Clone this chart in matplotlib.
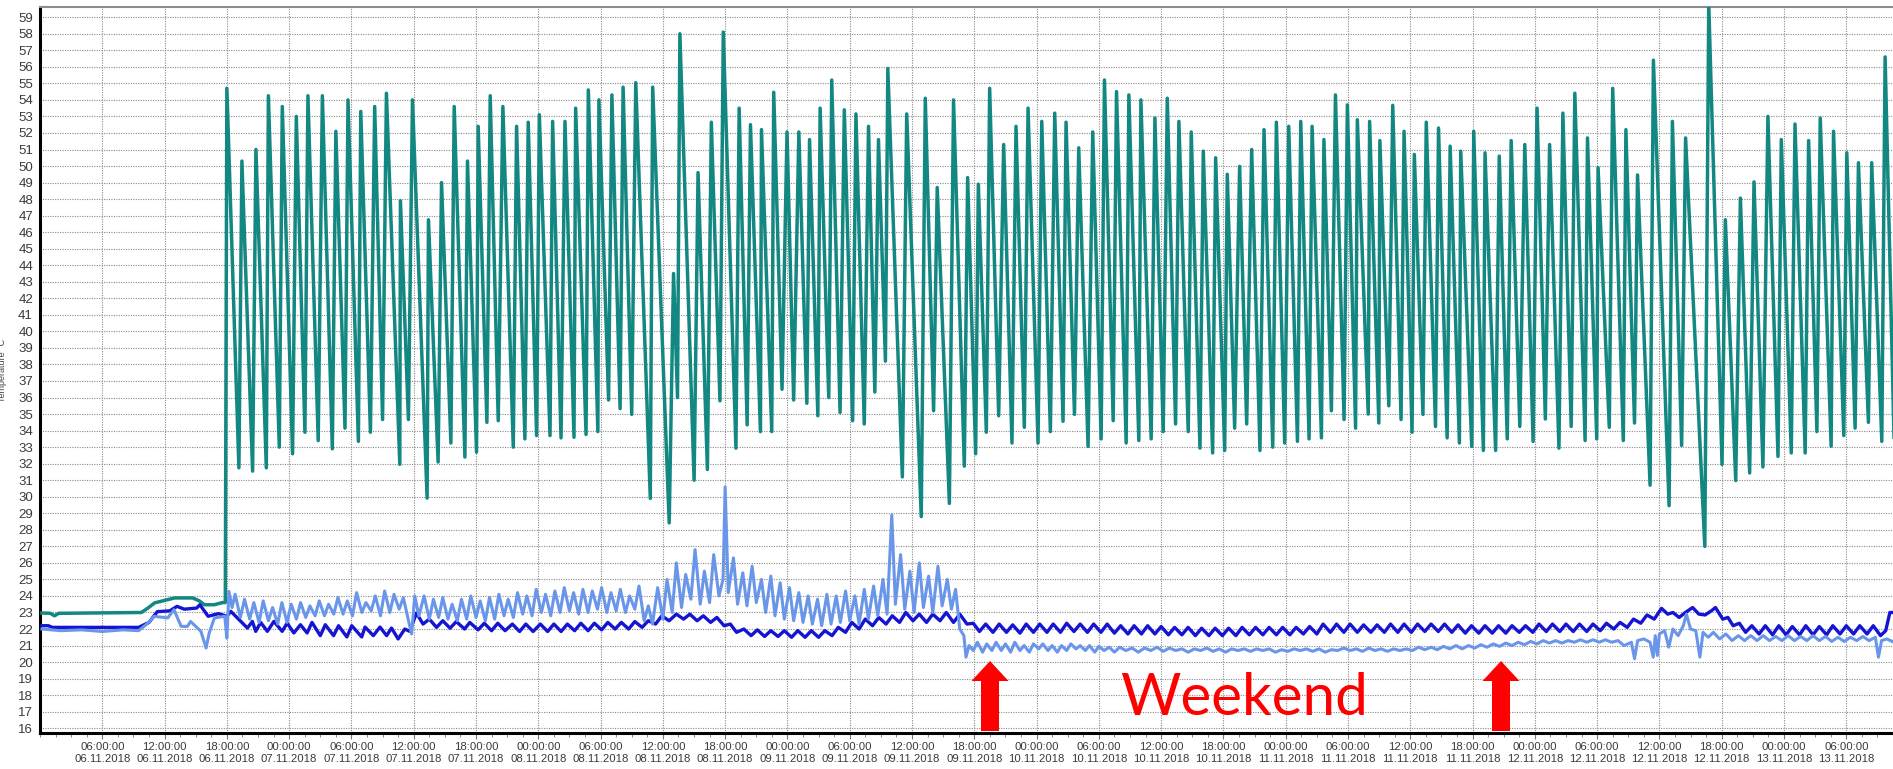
import numpy as np
import pandas as pd
import matplotlib
matplotlib.use("Agg")
import matplotlib.pyplot as plt
import matplotlib.dates as mdates
from matplotlib.patches import Polygon

start = pd.Timestamp("2018-11-06 00:00")

# flow temperature, turning points (hours after 06.11.2018 00:00, degC)
flow_h = [0.19, 1.0, 1.4, 1.8, 9.77, 10.4, 11.04, 12.32, 12.96, 14.71, 15.35, 15.83, 16.79, 17.59, 17.85,
          18.0, 19.16, 19.45, 20.48, 20.8, 21.8, 22.0, 23.05, 23.34, 24.33, 24.69, 25.52, 25.81, 26.8,
          27.2, 28.16, 28.5, 29.38, 29.67, 30.67, 30.9, 31.83, 32.24, 33.0, 33.37, 34.66, 34.72, 35.49,
          35.88, 37.29, 37.42, 38.35, 38.68, 39.58, 39.9, 40.93, 41.18, 42.05, 42.21, 43.05, 43.37, 44.14,
          44.59, 45.59, 45.91, 46.71, 47.03, 47.84, 48.1, 49.13, 49.38, 50.19, 50.57, 51.44, 51.6, 52.6,
          52.82, 53.74, 53.84, 54.77, 55.09, 55.88, 56.17, 57.0, 57.39, 58.79, 59.02, 60.61, 61.03, 61.41,
          61.64, 63.01, 63.39, 64.29, 64.67, 65.5, 65.82, 67.04, 67.35, 68.12, 68.44, 69.4, 69.5, 70.49,
          70.68, 71.48, 71.96, 72.6, 73.1, 73.87, 74.13, 74.93, 75.15, 75.98, 76.27, 77.07, 77.48, 78.28,
          78.6, 79.4, 79.81, 80.42, 80.77, 81.44, 81.67, 83.07, 83.49, 84.89, 85.28, 86.08, 86.43, 87.6,
          88.0, 89.04, 89.36, 90.13, 90.39, 91.16, 91.48, 92.35, 92.83, 93.63, 94.02, 94.82, 95.18, 96.14,
          96.5, 97.33, 97.75, 98.55, 98.84, 99.65, 100.06, 100.96, 101.41, 102.22, 102.54, 103.38, 103.7,
          104.63, 104.89, 105.85, 106.05, 107.04, 107.4, 108.2, 108.59, 109.39, 109.71, 110.61, 110.9,
          111.74, 112.06, 112.96, 113.25, 114.12, 114.37, 115.08, 115.56, 116.24, 116.72, 117.52, 117.91,
          118.75, 119.1, 119.9, 120.29, 121.13, 121.45, 122.25, 122.54, 123.44, 123.68, 124.4, 124.79,
          125.62, 125.94, 126.73, 126.9, 127.95, 128.08, 128.97, 129.07, 129.93, 130.31, 131.11, 131.4,
          132.17, 132.39, 133.22, 133.54, 134.43, 134.72, 135.55, 135.84, 136.73, 136.86, 137.92, 138.11,
          139.04, 139.2, 140.22, 140.57, 141.34, 141.72, 142.55, 143.03, 143.83, 144.21, 145.01, 145.42,
          146.32, 146.7, 147.5, 147.85, 148.84, 149.07, 149.96, 150.09, 151.17, 151.5, 152.52, 152.77,
          153.6, 153.89, 155.1, 155.42, 156.93, 157.25, 158.14, 158.52, 160.37, 160.75, 162.03, 162.35,
          163.35, 163.8, 164.69, 165.11, 165.97, 166.45, 167.42, 167.74, 168.7, 169.06, 170.04, 170.37,
          171.17, 171.49, 172.54, 172.77, 173.76, 174.05, 174.85, 175.17, 176.13, 176.45, 177.42, 177.74,
          178.6]
flow_t = [22.97, 22.95, 22.8, 22.95, 23.0, 23.27, 23.58, 23.78, 23.88, 23.88, 23.7, 23.47, 23.47, 23.6, 23.6,
          54.7, 31.75, 50.3, 31.55, 51.0, 31.75, 54.25, 33.0, 53.6, 32.6, 53.0, 33.9, 54.25, 33.4,
          54.25, 32.9, 52.1, 34.15, 54.0, 33.35, 53.3, 33.9, 53.6, 34.67, 54.4, 31.96, 47.9, 34.67,
          54.0, 29.92, 46.75, 32.1, 49.0, 33.25, 53.6, 32.4, 50.3, 32.7, 52.4, 34.5, 54.25, 34.6,
          53.6, 33.0, 52.4, 33.5, 52.65, 33.7, 53.1, 33.7, 52.7, 33.56, 52.7, 33.6, 53.5, 33.77,
          54.6, 33.94, 54.0, 35.85, 54.3, 35.33, 54.77, 34.98, 55.04, 29.9, 54.77, 28.42, 43.5, 36.0,
          58.0, 31.0, 49.6, 31.65, 52.65, 35.8, 58.1, 32.94, 53.5, 34.35, 52.5, 33.94, 52.2, 33.94,
          54.46, 36.5, 52.06, 35.85, 52.06, 35.65, 51.6, 34.9, 53.5, 36.0, 55.2, 35.1, 53.4, 34.6,
          53.15, 34.4, 52.4, 36.33, 51.6, 38.2, 55.9, 31.2, 53.15, 28.8, 54.1, 35.2, 48.7, 29.6,
          54.0, 31.85, 49.3, 32.6, 48.9, 33.9, 54.7, 34.9, 51.3, 33.25, 52.4, 34.2, 53.5, 33.25,
          52.7, 33.94, 53.2, 34.56, 52.65, 34.98, 51.1, 33.04, 52.06, 33.5, 55.2, 34.6, 54.5,
          33.25, 54.3, 33.4, 54.0, 33.5, 52.9, 33.94, 54.1, 34.4, 52.7, 33.94, 52.06,
          32.94, 50.9, 32.65, 50.5, 32.8, 49.5, 34.15, 49.98, 34.4, 51.0, 32.8, 52.2,
          33.0, 52.65, 33.25, 52.4, 33.35, 52.7, 33.5, 52.4, 33.56, 51.6, 35.2, 54.3,
          34.67, 53.7, 34.15, 52.8, 35.0, 52.7, 34.46, 51.54, 35.5, 53.67, 34.67, 52.1,
          33.9, 50.7, 34.98, 52.65, 34.25, 52.3, 33.56, 51.2, 33.25, 50.9, 33.04, 52.1,
          32.8, 50.8, 32.8, 50.6, 33.5, 51.54, 34.25, 51.3, 33.35, 53.5, 34.7, 51.3,
          32.94, 53.2, 34.25, 54.4, 33.4, 51.7, 33.5, 49.9, 34.2, 54.7, 33.4, 52.2,
          34.46, 49.46, 30.7, 56.4, 29.46, 52.7, 33.1, 51.7, 27.0, 59.8, 31.96, 46.75,
          30.98, 48.06, 31.44, 49.04, 31.8, 53.0, 32.44, 51.6, 32.65, 52.54, 32.65, 51.54,
          33.94, 52.9, 33.06, 52.1, 33.7, 50.8, 34.15, 50.2, 34.5, 50.2, 33.35, 56.6,
          33.5]

# room temperature (dark blue), (hour, degC)
room = [(0.19, 22.2), (0.8, 22.2), (1.2, 22.1), (9.5, 22.1), (10.5, 22.4), (11.3, 23.05), (12.5, 23.1),
        (13.2, 23.37), (13.9, 23.2), (15.1, 23.27), (15.4, 23.47), (16.2, 22.77), (17.2, 22.93),
        (18.0, 22.77), (18.38, 23.07), (19.98, 22.06), (20.46, 22.46), (20.78, 21.86), (21.26, 22.4),
        (21.9, 21.86), (22.53, 22.46), (23.33, 21.86), (23.81, 22.36), (24.45, 21.76), (25.09, 22.26),
        (25.73, 21.76), (26.2, 22.4), (27.0, 21.6), (27.48, 22.26), (28.28, 21.6), (28.76, 22.2),
        (29.56, 21.52), (30.03, 22.2), (30.99, 21.52), (31.31, 22.12), (32.11, 21.6), (32.75, 22.12),
        (33.39, 21.6), (33.86, 22.06), (34.5, 21.4), (35.14, 22.0), (35.62, 21.86), (36.26, 22.97),
        (36.9, 22.3), (37.5, 22.6), (38.2, 22.1), (38.8, 22.5), (39.5, 22.05), (40.1, 22.45),
        (40.9, 22.0), (41.4, 22.4), (42.2, 21.95), (42.8, 22.35), (43.5, 21.9), (44.1, 22.35),
        (44.8, 21.9), (45.5, 22.3), (46.2, 21.85), (46.8, 22.3), (47.5, 21.85), (48.2, 22.3),
        (48.9, 21.85), (49.5, 22.3), (50.2, 21.85), (50.8, 22.3), (51.5, 21.9), (52.1, 22.35),
        (52.8, 21.9), (53.4, 22.35), (54.1, 21.95), (54.7, 22.4), (55.4, 22.0), (56.0, 22.4),
        (56.7, 22.0), (57.3, 22.45), (58.0, 22.1), (58.6, 22.5), (59.3, 22.3), (59.9, 22.8),
        (60.6, 22.5), (61.3, 22.9), (62.0, 22.6), (62.6, 22.9), (63.3, 22.5), (63.9, 22.8),
        (64.6, 22.4), (65.2, 22.7), (65.9, 22.2), (66.5, 22.3), (67.1, 21.8), (67.8, 22.0),
        (68.5, 21.6), (69.1, 21.95), (69.8, 21.55), (70.4, 21.9), (71.1, 21.55), (71.7, 21.9),
        (72.4, 21.5), (73.0, 21.9), (73.7, 21.5), (74.3, 21.9), (75.0, 21.5), (75.6, 21.9),
        (76.3, 21.6), (76.9, 22.1), (77.6, 21.8), (78.2, 22.4), (78.9, 22.0), (79.5, 22.6),
        (80.2, 22.2), (80.8, 22.7), (81.5, 22.3), (82.1, 22.8), (82.8, 22.4), (83.4, 23.0),
        (84.1, 22.5), (84.7, 22.9), (85.4, 22.4), (86.0, 22.9), (86.7, 22.5), (87.3, 23.0),
        (88.0, 22.4), (88.6, 22.9), (89.3, 22.3), (89.9, 22.35), (90.5, 21.85), (91.1, 22.3),
        (91.8, 21.8), (92.4, 22.3), (93.1, 21.8), (93.7, 22.25), (94.4, 21.75), (95.0, 22.3),
        (95.7, 21.8), (96.3, 22.3), (97.0, 21.8), (97.6, 22.3), (98.3, 21.8), (98.9, 22.35),
        (99.6, 21.85), (100.2, 22.3), (100.9, 21.8), (101.5, 22.3), (102.2, 21.8), (102.8, 22.3),
        (103.5, 21.75), (104.1, 22.2), (104.8, 21.7), (105.4, 22.2), (106.1, 21.7), (106.7, 22.2),
        (107.4, 21.7), (108.0, 22.15), (108.7, 21.65), (109.3, 22.1), (110.0, 21.65), (110.6, 22.1),
        (111.3, 21.6), (111.9, 22.05), (112.6, 21.6), (113.2, 22.05), (113.9, 21.6), (114.5, 22.05),
        (115.2, 21.6), (115.8, 22.1), (116.5, 21.65), (117.1, 22.1), (117.8, 21.65), (118.4, 22.1),
        (119.1, 21.65), (119.7, 22.1), (120.4, 21.65), (121.0, 22.1), (121.7, 21.7), (122.3, 22.15),
        (123.0, 21.7), (123.6, 22.3), (124.3, 21.8), (124.9, 22.3), (125.6, 21.8), (126.2, 22.3),
        (126.9, 21.8), (127.5, 22.25), (128.2, 21.8), (128.8, 22.25), (129.5, 21.8), (130.1, 22.3),
        (130.8, 21.8), (131.4, 22.3), (132.1, 21.8), (132.7, 22.3), (133.4, 21.85), (134.0, 22.3),
        (134.7, 21.85), (135.3, 22.3), (136.0, 21.8), (136.6, 22.25), (137.3, 21.75), (137.9, 22.2),
        (138.6, 21.75), (139.2, 22.2), (139.9, 21.75), (140.5, 22.2), (141.2, 21.75), (141.8, 22.2),
        (142.5, 21.8), (143.1, 22.2), (143.8, 21.8), (144.4, 22.3), (145.1, 21.85), (145.7, 22.3),
        (146.4, 21.85), (147.0, 22.3), (147.7, 21.85), (148.3, 22.3), (149.0, 21.85), (149.6, 22.3),
        (150.3, 21.9), (150.9, 22.35), (151.6, 22.0), (152.2, 22.4), (152.9, 22.1), (153.5, 22.6),
        (154.2, 22.35), (154.8, 22.85), (155.5, 22.6), (156.2, 23.25), (156.8, 22.9), (157.3, 23.0),
        (157.9, 22.7), (158.5, 23.0), (159.2, 23.3), (159.8, 22.9), (160.4, 22.85), (161.0, 23.1),
        (161.4, 23.3), (162.1, 22.6), (162.6, 22.7), (163.1, 22.2), (163.7, 22.35), (164.3, 21.8),
        (164.9, 22.2), (165.6, 21.7), (166.2, 22.2), (166.9, 21.65), (167.5, 22.2), (168.2, 21.65),
        (168.8, 22.15), (169.5, 21.65), (170.1, 22.2), (170.8, 21.65), (171.4, 22.15), (172.1, 21.65),
        (172.7, 22.2), (173.4, 21.7), (174.0, 22.2), (174.7, 21.7), (175.3, 22.2), (176.0, 21.7),
        (176.6, 22.2), (177.3, 21.6), (177.8, 21.9), (178.2, 23.0), (178.6, 23.0)]

# second room sensor (light blue), (hour, degC)
sensor = [(0.19, 22.0), (2.0, 21.9), (4.0, 21.95), (6.0, 21.85), (8.0, 21.95), (9.5, 21.9), (10.4, 22.36),
          (11.0, 22.77), (12.3, 22.67), (12.9, 23.17), (13.6, 22.16), (14.2, 22.16), (14.5, 22.46),
          (15.5, 21.86), (16.0, 20.85), (16.3, 21.76), (16.8, 22.67), (17.8, 22.77), (18.0, 21.45),
          (18.2, 24.28), (18.5, 23.3), (18.8, 24.1), (19.3, 22.7), (19.7, 23.8), (20.2, 22.6),
          (20.6, 23.6), (21.1, 22.4), (21.5, 23.7), (22.0, 22.5), (22.4, 23.3), (22.9, 22.3),
          (23.3, 23.6), (23.8, 22.4), (24.2, 23.5), (24.7, 22.6), (25.1, 23.6), (25.6, 22.7),
          (26.0, 23.4), (26.5, 22.8), (26.9, 23.7), (27.4, 22.8), (27.8, 23.5), (28.3, 22.9),
          (28.7, 23.9), (29.2, 22.9), (29.6, 23.7), (30.1, 22.8), (30.5, 24.2), (31.0, 23.0),
          (31.4, 23.6), (31.9, 23.1), (32.3, 24.0), (32.8, 22.8), (33.2, 24.3), (33.7, 23.0),
          (34.1, 24.1), (34.6, 23.2), (35.0, 23.9), (35.5, 22.5), (35.8, 21.7), (36.1, 24.0),
          (36.5, 22.8), (37.0, 24.0), (37.5, 22.6), (37.9, 23.8), (38.4, 22.7), (38.8, 23.9),
          (39.3, 22.6), (39.7, 23.5), (40.2, 22.5), (40.6, 23.8), (41.1, 22.6), (41.5, 24.0),
          (42.0, 22.7), (42.4, 23.7), (42.9, 22.5), (43.3, 23.9), (43.8, 22.6), (44.2, 24.1),
          (44.7, 22.8), (45.1, 23.8), (45.6, 22.7), (46.0, 24.2), (46.5, 22.9), (46.9, 24.0),
          (47.4, 22.8), (47.8, 24.4), (48.3, 23.0), (48.7, 24.1), (49.2, 22.8), (49.6, 24.3),
          (50.1, 23.0), (50.5, 24.5), (51.0, 23.1), (51.4, 24.2), (51.9, 22.9), (52.3, 24.4),
          (52.8, 23.0), (53.2, 24.3), (53.7, 23.2), (54.1, 24.5), (54.6, 23.0), (55.0, 24.2),
          (55.5, 23.1), (55.9, 24.4), (56.4, 23.0), (56.8, 24.0), (57.3, 23.2), (57.7, 24.6),
          (58.2, 22.5), (58.6, 23.4), (59.0, 22.3), (59.5, 24.5), (60.0, 22.6), (60.4, 25.0),
          (60.9, 23.0), (61.3, 26.0), (61.8, 23.3), (62.2, 25.3), (62.7, 23.8), (63.1, 26.8),
          (63.6, 23.5), (64.0, 25.5), (64.5, 23.6), (64.9, 26.5), (65.4, 24.0), (65.8, 25.0),
          (66.0, 30.6), (66.3, 24.2), (66.8, 26.3), (67.2, 23.5), (67.7, 25.4), (68.1, 23.4),
          (68.6, 25.8), (69.0, 23.6), (69.5, 25.0), (69.9, 23.0), (70.4, 25.2), (70.8, 22.8),
          (71.3, 24.8), (71.7, 22.6), (72.2, 24.5), (72.6, 22.5), (73.1, 24.2), (73.5, 22.4),
          (74.0, 24.0), (74.4, 22.3), (74.9, 23.8), (75.3, 22.2), (75.8, 24.1), (76.2, 22.3),
          (76.7, 24.0), (77.1, 22.4), (77.6, 24.3), (78.0, 22.5), (78.5, 24.0), (78.9, 22.3),
          (79.4, 24.4), (79.8, 22.6), (80.3, 24.6), (80.7, 22.8), (81.2, 25.0), (81.6, 22.9),
          (82.05, 28.9), (82.4, 23.5), (82.9, 26.5), (83.3, 23.2), (83.8, 25.5), (84.2, 23.0),
          (84.7, 26.0), (85.1, 23.3), (85.6, 25.2), (86.0, 23.0), (86.5, 25.8), (86.9, 23.4),
          (87.4, 25.0), (87.8, 23.2), (88.2, 24.4), (88.6, 22.0), (89.0, 21.6), (89.2, 20.3),
          (89.5, 21.0), (89.9, 20.7), (90.3, 21.2), (90.8, 20.6), (91.2, 21.1), (91.7, 20.7),
          (92.1, 21.2), (92.6, 20.7), (93.0, 21.1), (93.5, 20.6), (93.9, 21.2), (94.4, 20.7),
          (94.8, 21.0), (95.3, 20.6), (95.7, 21.1), (96.2, 20.8), (96.6, 21.1), (97.1, 20.7),
          (97.5, 21.0), (98.0, 20.6), (98.4, 21.0), (98.9, 20.7), (99.3, 21.1), (99.8, 20.8),
          (100.2, 21.0), (100.7, 20.7), (101.1, 21.0), (101.6, 20.6), (102.0, 20.95), (102.5, 20.7),
          (103.0, 20.9), (103.5, 20.6), (104.0, 20.9), (104.6, 20.7), (105.2, 20.85), (105.8, 20.6),
          (106.4, 20.85), (107.0, 20.7), (107.6, 20.9), (108.2, 20.65), (108.8, 20.85), (109.4, 20.7),
          (110.0, 20.8), (110.6, 20.6), (111.2, 20.8), (111.8, 20.7), (112.4, 20.85), (113.0, 20.65),
          (113.6, 20.8), (114.2, 20.6), (114.8, 20.8), (115.4, 20.7), (116.0, 20.8), (116.6, 20.65),
          (117.2, 20.8), (117.8, 20.7), (118.4, 20.8), (119.0, 20.6), (119.6, 20.75), (120.2, 20.65),
          (120.8, 20.8), (121.4, 20.7), (122.0, 20.8), (122.6, 20.65), (123.2, 20.8), (123.8, 20.6),
          (124.4, 20.75), (125.0, 20.7), (125.6, 20.85), (126.2, 20.7), (126.8, 20.8), (127.4, 20.65),
          (128.0, 20.85), (128.6, 20.7), (129.2, 20.8), (129.8, 20.65), (130.4, 20.8), (131.0, 20.7),
          (131.6, 20.8), (132.2, 20.7), (132.8, 20.9), (133.4, 20.75), (134.0, 20.9), (134.6, 20.75),
          (135.2, 20.95), (135.8, 20.8), (136.4, 21.0), (137.0, 20.8), (137.6, 21.0), (138.2, 20.85),
          (138.8, 21.05), (139.4, 20.9), (140.0, 21.1), (140.6, 20.95), (141.2, 21.15), (141.8, 21.0),
          (142.4, 21.2), (143.0, 21.05), (143.6, 21.25), (144.2, 21.1), (144.8, 21.3), (145.4, 21.15),
          (146.0, 21.3), (146.6, 21.15), (147.2, 21.3), (147.8, 21.2), (148.4, 21.35), (149.0, 21.2),
          (149.6, 21.35), (150.2, 21.2), (150.8, 21.35), (151.4, 21.2), (152.0, 21.3), (152.6, 21.0),
          (153.3, 21.2), (153.6, 20.2), (153.9, 21.3), (154.5, 21.4), (155.1, 21.2), (155.4, 20.3),
          (155.6, 21.6), (155.8, 20.4), (156.0, 21.7), (156.5, 21.9), (156.9, 20.9), (157.3, 22.0),
          (157.8, 21.6), (158.3, 22.2), (158.6, 22.9), (159.0, 22.0), (159.5, 21.9), (159.9, 20.3),
          (160.2, 21.8), (160.7, 21.5), (161.2, 21.8), (161.8, 21.4), (162.4, 21.7), (163.0, 21.3),
          (163.6, 21.6), (164.2, 21.3), (164.8, 21.6), (165.4, 21.3), (166.0, 21.6), (166.6, 21.3),
          (167.2, 21.55), (167.8, 21.3), (168.4, 21.6), (169.0, 21.3), (169.6, 21.55), (170.2, 21.3),
          (170.8, 21.6), (171.4, 21.3), (172.0, 21.55), (172.6, 21.25), (173.2, 21.5), (173.8, 21.25),
          (174.4, 21.5), (175.0, 21.3), (175.6, 21.55), (176.2, 21.3), (176.8, 21.5), (177.1, 20.3),
          (177.4, 21.3), (177.9, 21.4), (178.6, 21.2)]


def to_num(hours):
    stamps = start + pd.to_timedelta(np.asarray(hours, dtype=float), unit="h")
    return mdates.date2num(stamps.to_pydatetime())


room_h, room_t = zip(*room)
sensor_h, sensor_t = zip(*sensor)

W, H = 1893, 769
fig = plt.figure(figsize=(W / 100, H / 100), dpi=100)
ax_l, ax_r, ax_t, ax_b = 40, W, 7.3, 732.7
ax = fig.add_axes([ax_l / W, 1 - ax_b / H, (ax_r - ax_l) / W, (ax_b - ax_t) / H])

ax.plot(to_num(flow_h), flow_t, color="#138781", lw=2.5, solid_joinstyle="round", zorder=3)
ax.plot(to_num(room_h), room_t, color="#1414d2", lw=2.4, zorder=4)
ax.plot(to_num(sensor_h), sensor_t, color="#6a96ea", lw=2.2, zorder=5)

ax.set_xlim(to_num([0.16, 178.45]))
ax.set_ylim(15.73, 59.6)
ax.set_yticks(range(16, 60))
ax.set_xticks(to_num(np.arange(6, 175, 6)))
ax.set_xticks(to_num(np.arange(0, 179, 1.5)), minor=True)
ax.xaxis.set_major_formatter(mdates.DateFormatter("%H:%M:%S\n%d.%m.%Y"))

ax.grid(True, which="major", color="#8a8a8a", linestyle=(0, (1, 1.2)), linewidth=0.8)
ax.tick_params(axis="y", length=0, pad=5, labelsize=9.5, labelcolor="#3a3a3a")
ax.tick_params(axis="x", which="major", length=4, color="#777777", pad=3, labelsize=8.2,
               labelcolor="#3a3a3a")
ax.tick_params(axis="x", which="minor", length=3, color="#777777")
for lab in ax.get_xticklabels() + ax.get_yticklabels():
    lab.set_family("Liberation Sans")
for lab in ax.get_xticklabels():
    lab.set_linespacing(1.25)

ax.spines["left"].set_linewidth(2.2)
ax.spines["left"].set_color("black")
ax.spines["bottom"].set_linewidth(2.2)
ax.spines["bottom"].set_color("black")
ax.spines["top"].set_linewidth(1.5)
ax.spines["top"].set_color("#8c8c8c")
ax.spines["right"].set_visible(False)

fig.text(0.0015, 1 - 370 / H, "Temperature °C", rotation=90, fontsize=6.5, color="#444444",
         family="Liberation Sans", ha="center", va="center")


# red arrows marking the weekend
def up_arrow(cx, top, bottom, head_w=37, head_len=20, shaft_w=18):
    pts = [(cx, top), (cx + head_w / 2, top + head_len), (cx + shaft_w / 2, top + head_len),
           (cx + shaft_w / 2, bottom), (cx - shaft_w / 2, bottom), (cx - shaft_w / 2, top + head_len),
           (cx - head_w / 2, top + head_len)]
    return Polygon([(x / W, 1 - y / H) for x, y in pts], closed=True, facecolor="#ff0000",
                   edgecolor="none", transform=fig.transFigure, zorder=10)


fig.patches.append(up_arrow(990, 661, 731))
fig.patches.append(up_arrow(1501, 661, 731))
fig.text(1244 / W, 1 - 715 / H, "Weekend", color="#ff0000", fontsize=42, family="Lato",
         ha="center", va="baseline")

fig.savefig("out.png", dpi=100)
